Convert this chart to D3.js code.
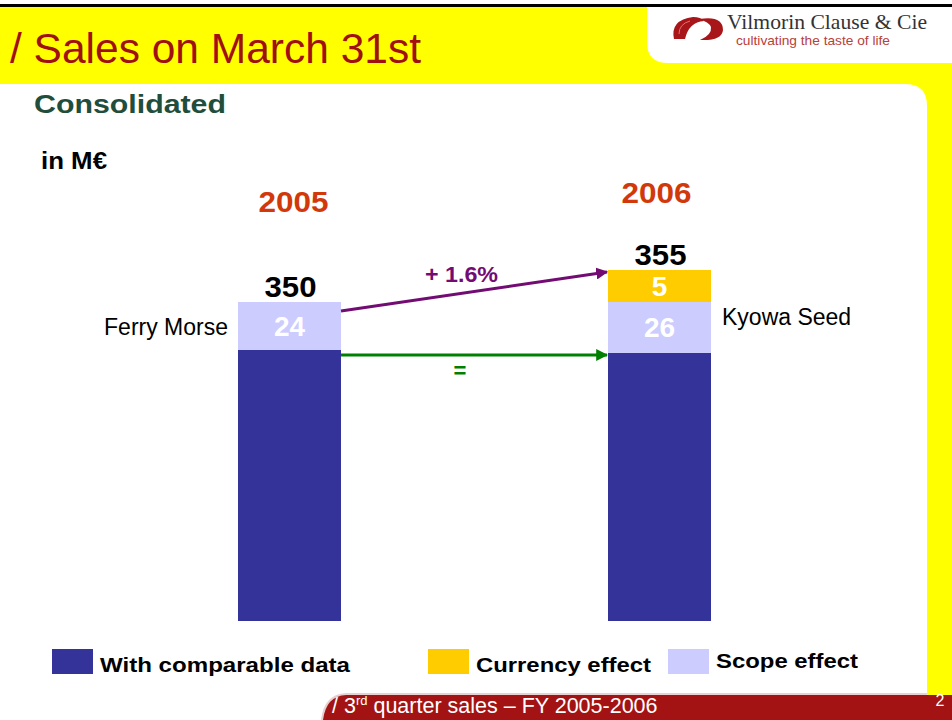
<!DOCTYPE html>
<html><head><meta charset="utf-8">
<script src="https://cdn.jsdelivr.net/npm/d3@7/dist/d3.min.js"></script>
<style>html,body{margin:0;padding:0;background:#fff;}svg{display:block;}</style>
</head><body>
<script>
const years = ["2005", "2006"];
const comparable = [326, 324];
const scope = [24, 26];
const currency = [0, 5];
const totals = [350, 355];
const scopeNames = ["Ferry Morse", "Kyowa Seed"];
const growthLabel = "+ 1.6%";
const comparableLabel = "=";
const legendLabels = ["With comparable data", "Currency effect", "Scope effect"];

const W = 952, H = 720;
const FONT = "'Liberation Sans', Arial, Helvetica, sans-serif";
const C = {blue: "#333399", scope: "#CCCCFF", cur: "#FFCC00", yellow: "#FFFF00", red: "#A31313",
           year: "#D2390A", purple: "#720C73", green: "#008000", title: "#A01010", sub: "#214E3C"};

const svg = d3.select("body").append("svg").attr("width", W).attr("height", H)
  .style("font-family", FONT);

function fit(sel, len) {
  return sel.attr("textLength", len).attr("lengthAdjust", "spacingAndGlyphs");
}

// ---- Slide frame ----
svg.append("rect").attr("x", 0).attr("y", 0).attr("width", W).attr("height", H).attr("fill", "#fff");
svg.append("rect").attr("x", 0).attr("y", 7).attr("width", W).attr("height", 690).attr("fill", C.yellow);
svg.append("path").attr("fill", "#fff")
  .attr("d", "M0,84 L905,84 Q927,84 927,106 L927,720 L0,720 Z");
svg.append("path").attr("fill", "#fff")
  .attr("d", "M647,7 L952,7 L952,63 L668,63 Q647,63 647,42 Z");
svg.append("rect").attr("x", 0).attr("y", 4).attr("width", W).attr("height", 3).attr("fill", "#000");
// footer band
svg.append("path").attr("fill", "#e8d0d0")
  .attr("d", "M321,720 Q324,694 346,693 L952,693 L952,695 L346,695 Q326,696 324,720 Z");
svg.append("path").attr("fill", C.red)
  .attr("d", "M323,720 Q326,696 346,695 L952,695 L952,720 Z");
svg.append("rect").attr("x", 927).attr("y", 680).attr("width", 25).attr("height", 15).attr("fill", C.yellow);
svg.append("text").attr("x", 940).attr("y", 706).attr("text-anchor", "middle")
  .attr("font-size", 16).attr("fill", "#fff").text("2");
const ft = svg.append("text").attr("x", 332).attr("y", 713).attr("font-size", 21.5).attr("fill", "#fff");
ft.append("tspan").text("/ 3");
ft.append("tspan").attr("font-size", 13).attr("dy", -8).text("rd");
ft.append("tspan").attr("dy", 8).text(" quarter sales \u2013 FY 2005-2006");

// title
fit(svg.append("text").attr("x", 10).attr("y", 63).attr("font-size", 42).attr("fill", C.title)
  .text("/ Sales on March 31st"), 411);
fit(svg.append("text").attr("x", 34).attr("y", 113).attr("font-size", 26).attr("font-weight", "bold")
  .attr("fill", C.sub).text("Consolidated"), 192);
fit(svg.append("text").attr("x", 41).attr("y", 169).attr("font-size", 23).attr("font-weight", "bold")
  .attr("fill", "#000").text("in M\u20AC"), 66);

// logo
const lg = svg.append("g");
lg.append("path").attr("fill", "#A8161A")
  .attr("d", "M674,39 Q670,20 693,17 Q701,17 704,21 Q689,22 685,39 Z");
lg.append("path").attr("fill", "#A8161A")
  .attr("d", "M699,19 Q723,15 723,30 Q722,41 700,40 Q712,35 711,27 Q709,22 699,19 Z");
lg.append("path").attr("fill", "none").attr("stroke", "#e07070").attr("stroke-width", 1)
  .attr("d", "M679,34 Q679,24 690,21");
fit(svg.append("text").attr("x", 727).attr("y", 29).attr("font-size", 21)
  .attr("font-family", "'Liberation Serif', 'DejaVu Serif', serif").attr("fill", "#333").text("Vilmorin Clause & Cie"), 200);
fit(svg.append("text").attr("x", 736).attr("y", 45).attr("font-size", 13)
  .attr("fill", "#B84040").text("cultivating the taste of life"), 154);

// ---- Chart ----
const barW = 103;
const x = d3.scalePoint().domain(years).range([289.5, 659.5]);
// broken value axis: the slide draws its stacked bars in a stretched style
const y = d3.scaleLinear().domain([0, 325, 350, 355]).range([621, 352, 302, 270]);

const rows = years.map((yr, i) => ({
  yr, i,
  segs: [
    {key: "comparable", v0: 0, v1: comparable[i], fill: C.blue, label: null},
    {key: "scope", v0: comparable[i], v1: comparable[i] + scope[i], fill: C.scope, label: scope[i]},
    {key: "currency", v0: comparable[i] + scope[i], v1: comparable[i] + scope[i] + currency[i], fill: C.cur, label: currency[i]}
  ].filter(s => s.v1 > s.v0)
}));

const g = svg.append("g");
rows.forEach(r => {
  const cx = x(r.yr);
  g.selectAll(null).data(r.segs).enter().append("rect")
    .attr("x", cx - barW / 2).attr("width", barW)
    .attr("y", d => y(d.v1)).attr("height", d => y(d.v0) - y(d.v1))
    .attr("fill", d => d.fill);
  g.selectAll(null).data(r.segs.filter(s => s.label !== null)).enter().append("text")
    .attr("x", cx).attr("y", d => (y(d.v0) + y(d.v1)) / 2 + 10)
    .attr("text-anchor", "middle").attr("font-size", 28).attr("font-weight", "bold")
    .attr("fill", "#fff").text(d => d.label);
  fit(g.append("text").attr("x", cx + 1).attr("y", y(totals[r.i]) - 5)
    .attr("text-anchor", "middle").attr("font-size", 29).attr("font-weight", "bold")
    .attr("fill", "#000").text(totals[r.i]), 52);
  fit(g.append("text").attr("x", cx + (r.i === 0 ? 4 : -3)).attr("y", r.i === 0 ? 212 : 203)
    .attr("text-anchor", "middle").attr("font-size", 30).attr("font-weight", "bold")
    .attr("fill", C.year).text(r.yr), 70);
  const sc = r.segs.find(s => s.key === "scope");
  const ny = (y(sc.v0) + y(sc.v1)) / 2 + 8;
  g.append("text")
    .attr("x", r.i === 0 ? cx - barW / 2 - 10 : cx + barW / 2 + 11)
    .attr("y", r.i === 0 ? ny + 1 : ny - 10)
    .attr("text-anchor", r.i === 0 ? "end" : "start")
    .attr("font-size", 23).attr("fill", "#000").text(scopeNames[r.i]);
});

// arrows
const defs = svg.append("defs");
function marker(id, color) {
  defs.append("marker").attr("id", id).attr("viewBox", "0 0 10 10").attr("refX", 9).attr("refY", 5)
    .attr("markerWidth", 4).attr("markerHeight", 4).attr("orient", "auto").attr("markerUnits", "strokeWidth")
    .append("path").attr("d", "M0,0 L10,5 L0,10 Z").attr("fill", color);
}
marker("ap", C.purple); marker("ag", C.green);
const x1 = x(years[0]) + barW / 2, x2 = x(years[1]) - barW / 2;
svg.append("line").attr("x1", x1).attr("y1", y(totals[0]) + 9).attr("x2", x2 - 1).attr("y2", y(totals[1]) + 2)
  .attr("stroke", C.purple).attr("stroke-width", 3).attr("marker-end", "url(#ap)");
const yc = y(d3.mean(comparable)) + 3;
svg.append("line").attr("x1", x1).attr("y1", yc).attr("x2", x2 - 1).attr("y2", yc)
  .attr("stroke", C.green).attr("stroke-width", 3).attr("marker-end", "url(#ag)");
fit(svg.append("text").attr("x", 461.5).attr("y", 282).attr("text-anchor", "middle")
  .attr("font-size", 22).attr("font-weight", "bold").attr("fill", C.purple).text(growthLabel), 73);
svg.append("text").attr("x", 460).attr("y", 378).attr("text-anchor", "middle")
  .attr("font-size", 22).attr("font-weight", "bold").attr("fill", C.green).text(comparableLabel);

// legend
const legendColors = [C.blue, C.cur, C.scope];
const legendPos = [{x: 52, ty: 672, w: 250}, {x: 428, ty: 672, w: 175}, {x: 668, ty: 668, w: 142}];
legendLabels.forEach((t, i) => {
  svg.append("rect").attr("x", legendPos[i].x).attr("y", 649).attr("width", 41).attr("height", 25)
    .attr("fill", legendColors[i]);
  fit(svg.append("text").attr("x", legendPos[i].x + 48).attr("y", legendPos[i].ty)
    .attr("font-size", 21).attr("font-weight", "bold").attr("fill", "#000").text(t), legendPos[i].w);
});
</script>
</body></html>
